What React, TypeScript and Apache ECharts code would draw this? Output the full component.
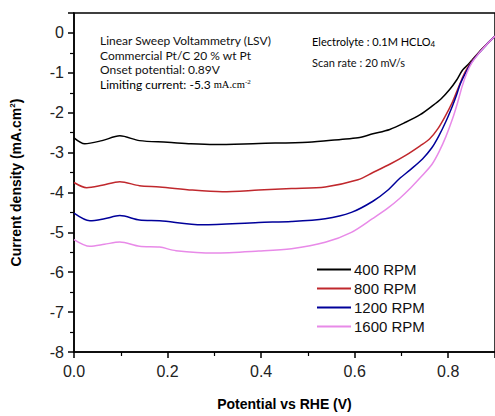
import React, { useEffect, useRef } from "react";
import * as echarts from "echarts";

const seriesNames = ["400 RPM", "800 RPM", "1200 RPM", "1600 RPM"];
const seriesColors = ["#000000", "#c0282d", "#00009a", "#e88ae8"];

const potential400 = [0, 0.023, 0.06, 0.098, 0.14, 0.2, 0.25, 0.3, 0.395, 0.5, 0.57, 0.607, 0.639, 0.675, 0.709, 0.74, 0.766, 0.785, 0.803, 0.818, 0.83, 0.842, 0.851, 0.863, 0.873, 0.883, 0.9];
const current400 = [-2.63, -2.78, -2.7, -2.58, -2.7, -2.74, -2.78, -2.8, -2.77, -2.74, -2.67, -2.63, -2.53, -2.42, -2.24, -2.05, -1.83, -1.65, -1.42, -1.18, -0.94, -0.8, -0.68, -0.52, -0.39, -0.27, -0.08];

const potential800 = [0, 0.027, 0.06, 0.098, 0.14, 0.183, 0.253, 0.317, 0.395, 0.465, 0.537, 0.607, 0.639, 0.677, 0.709, 0.74, 0.76, 0.778, 0.794, 0.808, 0.82, 0.832, 0.842, 0.851, 0.863, 0.873, 0.883, 0.9];
const current800 = [-3.75, -3.88, -3.82, -3.73, -3.83, -3.86, -3.94, -3.98, -3.94, -3.9, -3.86, -3.68, -3.5, -3.28, -3.07, -2.83, -2.66, -2.4, -2.08, -1.76, -1.42, -1.08, -0.86, -0.7, -0.53, -0.4, -0.28, -0.08];

const potential1200 = [0, 0.034, 0.065, 0.098, 0.14, 0.183, 0.274, 0.395, 0.465, 0.537, 0.593, 0.639, 0.67, 0.696, 0.72, 0.745, 0.765, 0.78, 0.795, 0.809, 0.818, 0.826, 0.838, 0.851, 0.863, 0.873, 0.883, 0.9];
const current1200 = [-4.52, -4.71, -4.66, -4.58, -4.69, -4.71, -4.81, -4.75, -4.73, -4.66, -4.5, -4.22, -3.95, -3.65, -3.42, -3.16, -2.88, -2.58, -2.22, -1.83, -1.55, -1.27, -0.98, -0.72, -0.54, -0.41, -0.28, -0.08];

const potential1600 = [0, 0.034, 0.065, 0.098, 0.14, 0.183, 0.218, 0.3, 0.395, 0.465, 0.537, 0.593, 0.639, 0.67, 0.696, 0.72, 0.745, 0.765, 0.78, 0.795, 0.809, 0.82, 0.83, 0.84, 0.851, 0.863, 0.873, 0.883, 0.9];
const current1600 = [-5.18, -5.35, -5.3, -5.24, -5.35, -5.37, -5.46, -5.52, -5.47, -5.41, -5.25, -5.0, -4.65, -4.4, -4.15, -3.88, -3.57, -3.3, -2.99, -2.6, -2.16, -1.75, -1.33, -1.0, -0.74, -0.55, -0.41, -0.28, -0.08];

const xTickInterval = 0.2;
const yTickInterval = 1;

const annotationLeft = [
  "Linear Sweep Voltammetry (LSV)",
  "Commercial Pt/C 20 % wt Pt",
  "Onset potential: 0.89V",
];

function pairs(xs: number[], ys: number[]) {
  return xs.map((x, i) => [x, ys[i]]);
}

export default function App() {
  const ref = useRef<HTMLDivElement>(null);
  useEffect(() => {
    if (!ref.current) return;
    const chart = echarts.init(ref.current, undefined, { renderer: "svg" });
    const allData = [
      pairs(potential400, current400),
      pairs(potential800, current800),
      pairs(potential1200, current1200),
      pairs(potential1600, current1600),
    ];
    const annoFont = "Lato, 'Open Sans', sans-serif";
    chart.setOption({
      animation: false,
      backgroundColor: "#ffffff",
      grid: {
        left: 74,
        top: 13,
        bottom: 61,
        right: -3,
        show: true,
        borderColor: "#000",
        borderWidth: 1.5,
      },
      xAxis: {
        type: "value",
        min: 0,
        max: 0.9,
        interval: xTickInterval,
        name: "Potential vs RHE (V)",
        nameLocation: "middle",
        nameGap: 45,
        nameTextStyle: {
          fontFamily: "'Liberation Sans', Arial, sans-serif",
          fontWeight: "bold",
          fontSize: 14,
          color: "#000",
        },
        axisLine: { onZero: false, lineStyle: { color: "#000", width: 1.5 } },
        axisTick: { show: true, inside: false, length: 6, lineStyle: { color: "#000", width: 1.5 } },
        minorTick: { show: true, splitNumber: 2, length: 4, lineStyle: { color: "#000", width: 1.2 } },
        splitLine: { show: false },
        axisLabel: {
          showMaxLabel: false,
          margin: 11,
          fontFamily: "'Liberation Sans', Arial, sans-serif",
          fontSize: 16,
          color: "#222",
          formatter: (v: number) => v.toFixed(1),
        },
      },
      yAxis: {
        type: "value",
        min: -8,
        max: 0.5,
        interval: yTickInterval,
        name: "{a|Current density (mA.cm}{s|2}{a|)}",
        nameLocation: "middle",
        nameGap: 50,
        nameTextStyle: {
          rich: {
            a: {
              fontFamily: "'Liberation Sans', Arial, sans-serif",
              fontWeight: "bold",
              fontSize: 14,
              color: "#000",
            },
            s: {
              fontFamily: "'Liberation Sans', Arial, sans-serif",
              fontWeight: "bold",
              fontSize: 8,
              color: "#000",
              verticalAlign: "top",
              padding: [0, 0, 8, 0],
            },
          },
        },
        axisLine: { onZero: false, lineStyle: { color: "#000", width: 1.5 } },
        axisTick: { show: true, inside: false, length: 6, lineStyle: { color: "#000", width: 1.5 } },
        minorTick: { show: true, splitNumber: 2, length: 4, lineStyle: { color: "#000", width: 1.2 } },
        splitLine: { show: false },
        axisLabel: {
          showMaxLabel: false,
          margin: 10,
          fontFamily: "'Liberation Sans', Arial, sans-serif",
          fontSize: 16,
          color: "#222",
        },
      },
      legend: {
        orient: "vertical",
        left: 312,
        top: 257,
        itemWidth: 34,
        itemHeight: 2,
        itemGap: 4,
        icon: "rect",
        textStyle: {
          fontFamily: "'Liberation Sans', Arial, sans-serif",
          fontSize: 15,
          color: "#111",
          padding: [0, 0, 0, -2],
        },
        data: seriesNames,
      },
      series: seriesNames.map((name, i) => ({
        name,
        type: "line",
        data: allData[i],
        showSymbol: false,
        symbol: "none",
        smooth: 0.3,
        lineStyle: { color: seriesColors[i], width: 1.5 },
        itemStyle: { color: seriesColors[i] },
      })),
      graphic: [
        ...annotationLeft.map((t, i) => ({
          type: "text",
          left: 100,
          top: 34.5 + i * 14.5,
          style: { text: t, font: `12px ${annoFont}`, fill: "#111" },
        })),
        {
          type: "text",
          left: 100,
          top: 78,
          style: {
            text: "{a|Limiting current: -5.3 }{b|mA.cm}{c|-2}",
            rich: {
              a: { fontFamily: annoFont, fontSize: 12, color: "#111" },
              b: { fontFamily: "'Liberation Serif', serif", fontSize: 10.5, color: "#111" },
              c: { fontFamily: "'Liberation Serif', serif", fontSize: 7, color: "#111", verticalAlign: "top", padding: [0, 0, 6, 0] },
            },
          },
        },
        {
          type: "text",
          left: 312,
          top: 36,
          style: {
            text: "{a|Electrolyte : 0.1M HCLO}{s|4}",
            rich: {
              a: { fontFamily: annoFont, fontSize: 11, color: "#111" },
              s: { fontFamily: annoFont, fontSize: 8, color: "#111", verticalAlign: "bottom", padding: [4, 0, 0, 0] },
            },
          },
        },
        {
          type: "text",
          left: 312,
          top: 57,
          style: { text: "Scan rate : 20 mV/s", font: `11px ${annoFont}`, fill: "#111" },
        },
      ],
    });
    return () => chart.dispose();
  }, []);
  return <div ref={ref} style={{ width: 495, height: 416, position: "absolute", left: 0, top: 0 }} />;
}
